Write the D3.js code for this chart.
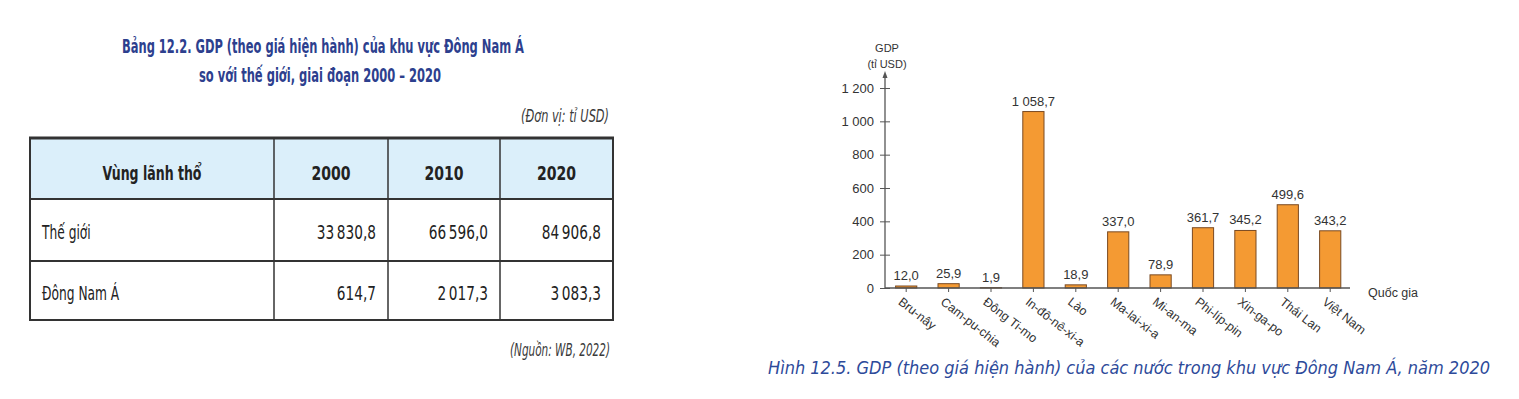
<!DOCTYPE html>
<html><head><meta charset="utf-8">
<script src="https://cdn.jsdelivr.net/npm/d3@7"></script>
<style>
html,body{margin:0;padding:0;background:#fff;}
svg{display:block;}
.cond text, text.cond{font-family:"DejaVu Sans Condensed","DejaVu Sans","Open Sans",sans-serif;font-stretch:condensed;}
.chart text{font-family:"Liberation Sans",Arial,sans-serif;}
</style></head>
<body>
<script>
// ---- Table data ----
const tableTitle = ["Bảng 12.2. GDP (theo giá hiện hành) của khu vực Đông Nam Á", "so với thế giới, giai đoạn 2000 – 2020"];
const tableUnit = "(Đơn vị: tỉ USD)";
const tableSource = "(Nguồn: WB, 2022)";
const headerFirst = "Vùng lãnh thổ";
const years = ["2000", "2010", "2020"];
const regions = ["Thế giới", "Đông Nam Á"];
const worldGDP = [33830.8, 66596.0, 84906.8];
const seaGDP = [614.7, 2017.3, 3083.3];

// ---- Chart data ----
const countries = ["Bru-nây","Cam-pu-chia","Đông Ti-mo","In-đô-nê-xi-a","Lào","Ma-lai-xi-a","Mi-an-ma","Phi-líp-pin","Xin-ga-po","Thái Lan","Việt Nam"];
const gdp2020 = [12.0, 25.9, 1.9, 1058.7, 18.9, 337.0, 78.9, 361.7, 345.2, 499.6, 343.2];
const yTicks = [0, 200, 400, 600, 800, 1000, 1200];
const yLabel = ["GDP", "(tỉ USD)"];
const xLabel = "Quốc gia";
const caption = "Hình 12.5. GDP (theo giá hiện hành) của các nước trong khu vực Đông Nam Á, năm 2020";

const loc = d3.formatLocale({decimal: ",", thousands: "\u2009", grouping: [3], currency: ["", ""]});
const fmtTable = loc.format(",.1f");
const loc2 = d3.formatLocale({decimal: ",", thousands: " ", grouping: [3], currency: ["", ""]});
const fmtVal = loc2.format(",.1f");
const fmtTick = loc2.format(",d");

const W = 1519, H = 399;
const svg = d3.select("body").append("svg").attr("width", W).attr("height", H);
svg.append("rect").attr("width", W).attr("height", H).attr("fill", "#fff");

// squeeze text horizontally by a factor of its natural width
function squeeze(sel, f) {
  sel.each(function () {
    const n = this.getComputedTextLength();
    d3.select(this).attr("textLength", n * f).attr("lengthAdjust", "spacingAndGlyphs");
  });
  return sel;
}

// ================= TABLE =================
const T = svg.append("g").attr("class", "cond");
const blue = "#2d3f8e";
T.append("text").attr("x", 323).attr("y", 53).attr("text-anchor", "middle")
  .attr("font-size", 20).attr("font-weight", "bold").attr("fill", blue)
  .attr("textLength", 402).attr("lengthAdjust", "spacingAndGlyphs").text(tableTitle[0]);
T.append("text").attr("x", 320).attr("y", 82).attr("text-anchor", "middle")
  .attr("font-size", 20).attr("font-weight", "bold").attr("fill", blue)
  .attr("textLength", 242).attr("lengthAdjust", "spacingAndGlyphs").text(tableTitle[1]);
T.append("text").attr("x", 609).attr("y", 122).attr("text-anchor", "end")
  .attr("font-size", 17).attr("font-style", "italic").attr("fill", "#3a3a3a")
  .attr("textLength", 88).attr("lengthAdjust", "spacingAndGlyphs").text(tableUnit);

const colEdges = [30, 274, 388, 500, 613];
const rowEdges = [138, 199, 261, 320];
T.append("rect").attr("x", 30).attr("y", 138).attr("width", 583).attr("height", 61).attr("fill", "#dbeffa");
colEdges.forEach((xx, i) => {
  T.append("line").attr("x1", xx).attr("x2", xx).attr("y1", 138).attr("y2", rowEdges[3])
   .attr("stroke", "#333").attr("stroke-width", (i === 0 || i === 4) ? 2 : 1.5);
});
rowEdges.forEach((yy, i) => {
  T.append("line").attr("x1", 29).attr("x2", 614).attr("y1", yy).attr("y2", yy)
   .attr("stroke", "#333").attr("stroke-width", i === 0 ? 3 : 2.2);
});
// header
T.append("text").attr("x", 152).attr("y", 180).attr("text-anchor", "middle")
  .attr("font-size", 20).attr("font-weight", "bold").attr("fill", "#222")
  .attr("textLength", 99).attr("lengthAdjust", "spacingAndGlyphs").text(headerFirst);
const hdr = T.selectAll("text.yr").data(years).join("text").attr("class", "yr")
  .attr("x", (d, i) => (colEdges[i + 1] + colEdges[i + 2]) / 2).attr("y", 180).attr("text-anchor", "middle")
  .attr("font-size", 20).attr("font-weight", "bold").attr("fill", "#222").text(d => d);
squeeze(hdr, 0.78);
// rows
const rowsData = [worldGDP, seaGDP];
const rowBase = [239, 300];
const lbl = T.selectAll("text.reg").data(regions).join("text").attr("class", "reg")
  .attr("x", 42).attr("y", (d, i) => rowBase[i]).attr("font-size", 20).attr("fill", "#222").text(d => d);
squeeze(lbl, 0.68);
regions.forEach((r, ri) => {
  const nums = T.selectAll("text.n" + ri).data(rowsData[ri]).join("text").attr("class", "n" + ri)
    .attr("x", (d, ci) => colEdges[ci + 2] - 12).attr("y", rowBase[ri]).attr("text-anchor", "end")
    .attr("font-size", 20).attr("fill", "#222").text(d => fmtTable(d));
  squeeze(nums, 0.76);
});
T.append("text").attr("x", 610).attr("y", 356).attr("text-anchor", "end")
  .attr("font-size", 17).attr("font-style", "italic").attr("fill", "#3a3a3a")
  .attr("textLength", 100).attr("lengthAdjust", "spacingAndGlyphs").text(tableSource);

// ================= CHART =================
const C = svg.append("g").attr("class", "chart");
const x0 = 885, xEnd = 1350, y0 = 288;
const x = d3.scaleBand().domain(countries).range([x0, x0 + 11 * 42.4]).paddingInner(0.5).paddingOuter(0.25);
const y = d3.scaleLinear().domain([0, 1200]).range([y0, 88]);
const axisColor = "#555";
const txt = "#333";

// y axis
const yAxis = d3.axisLeft(y).tickValues(yTicks).tickFormat(fmtTick).tickSize(0).tickPadding(11);
const gy = C.append("g").attr("transform", `translate(${x0},0)`).call(yAxis);
gy.select(".domain").remove();
gy.selectAll(".tick text").attr("font-size", 13).attr("fill", txt).attr("font-family", "Liberation Sans, Arial, sans-serif");
gy.selectAll(".tick").append("line").attr("x1", -5).attr("x2", 5).attr("stroke", axisColor).attr("stroke-width", 1);
C.append("line").attr("x1", x0).attr("x2", x0).attr("y1", y0).attr("y2", 74).attr("stroke", axisColor).attr("stroke-width", 1.3);
C.append("path").attr("d", `M${x0 - 2.5},${78} L${x0},${71} L${x0 + 2.5},${78} Z`).attr("fill", axisColor);
C.append("text").attr("x", 887).attr("y", 52).attr("text-anchor", "middle").attr("font-size", 11).attr("fill", txt).text(yLabel[0]);
C.append("text").attr("x", 887).attr("y", 68).attr("text-anchor", "middle").attr("font-size", 11).attr("fill", txt).text(yLabel[1]);

// bars
C.selectAll("rect.bar").data(countries).join("rect").attr("class", "bar")
  .attr("x", d => x(d)).attr("width", x.bandwidth())
  .attr("y", (d, i) => y(gdp2020[i])).attr("height", (d, i) => y0 - y(gdp2020[i]))
  .attr("fill", "#f49a33").attr("stroke", "#7a4a22").attr("stroke-width", 1);
C.selectAll("text.val").data(countries).join("text").attr("class", "val")
  .attr("x", d => x(d) + x.bandwidth() / 2).attr("y", (d, i) => y(gdp2020[i]) - 6)
  .attr("text-anchor", "middle").attr("font-size", 13).attr("fill", txt)
  .text((d, i) => fmtVal(gdp2020[i]));

// x axis
const xAxis = d3.axisBottom(x).tickSize(4).tickFormat("");
const gx = C.append("g").attr("transform", `translate(0,${y0})`).call(xAxis);
gx.select(".domain").remove();
gx.selectAll(".tick line").attr("stroke", axisColor);
C.append("line").attr("x1", x0).attr("x2", xEnd).attr("y1", y0).attr("y2", y0).attr("stroke", axisColor).attr("stroke-width", 1.5);
C.selectAll("text.cat").data(countries).join("text").attr("class", "cat")
  .attr("transform", d => `translate(${x(d) + x.bandwidth() / 2 - 3},${y0 + 8}) rotate(38)`)
  .attr("dy", "0.75em").attr("font-size", 12.5).attr("fill", txt).text(d => d);
C.append("text").attr("x", 1368).attr("y", 297).attr("font-size", 12.5).attr("fill", txt).text(xLabel);

// caption
svg.append("text").attr("class", "cond").attr("x", 768).attr("y", 374)
  .attr("font-size", 17).attr("font-style", "italic").attr("fill", "#2d4a9a")
  .attr("textLength", 722).attr("lengthAdjust", "spacingAndGlyphs").text(caption);
</script>
</body></html>
